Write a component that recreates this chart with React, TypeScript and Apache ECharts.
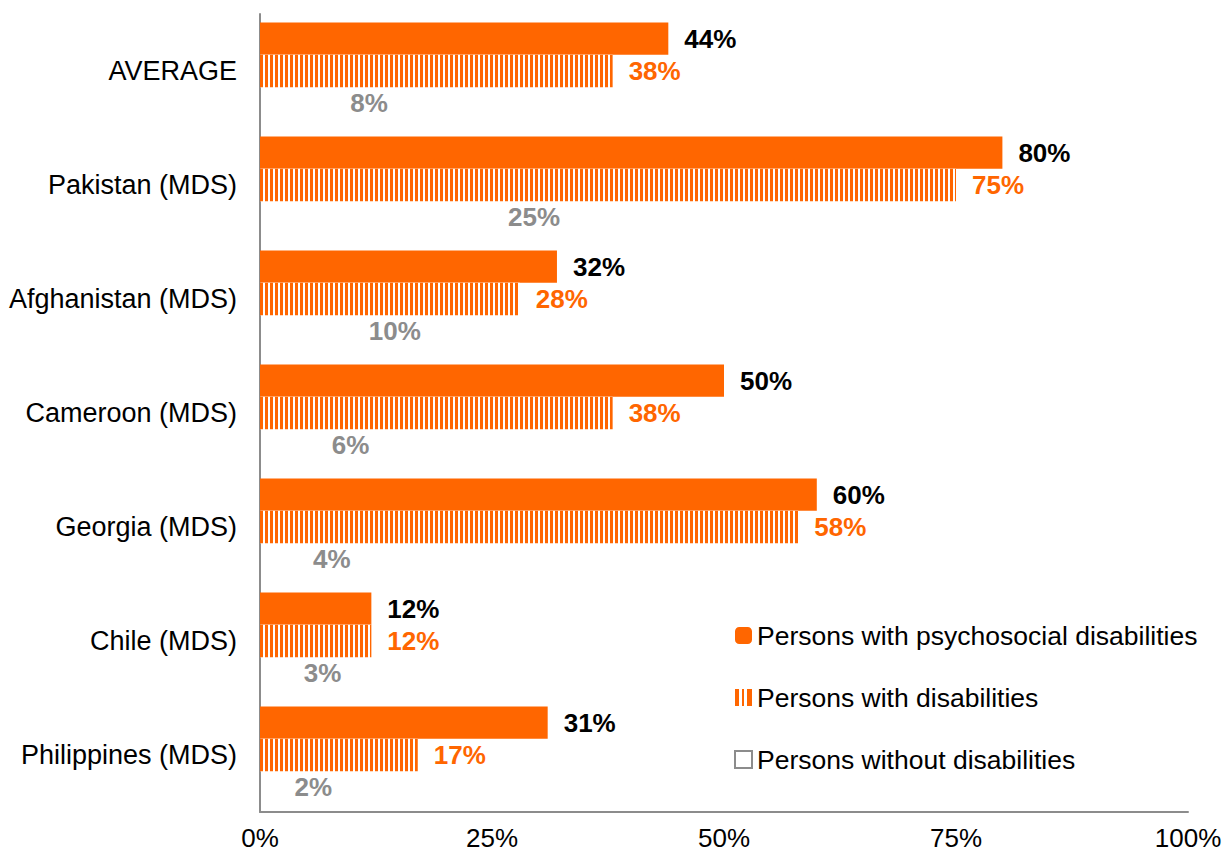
import React, { useEffect, useRef } from "react";
import * as echarts from "echarts";

const categories = [
  "AVERAGE",
  "Pakistan (MDS)",
  "Afghanistan (MDS)",
  "Cameroon (MDS)",
  "Georgia (MDS)",
  "Chile (MDS)",
  "Philippines (MDS)",
];
const psychosocial = [44, 80, 32, 50, 60, 12, 31];
const withDisabilities = [38, 75, 28, 38, 58, 12, 17];
const withoutDisabilities = [8, 25, 10, 6, 4, 3, 2];
const xTicks = [0, 25, 50, 75, 100];

const ORANGE = "#FF6600";
const GRAY = "#8C8C8C";
const FONT = "Liberation Sans, Arial, sans-serif";

export default function App() {
  const ref = useRef<HTMLDivElement>(null);
  useEffect(() => {
    if (!ref.current) return;
    const chart = echarts.init(ref.current, undefined, { renderer: "svg" });
    const labelBase = {
      show: true,
      position: "right",
      distance: 16,
      fontSize: 26,
      fontWeight: "bold",
      fontFamily: FONT,
      formatter: (p: any) => p.value + "%",
    };
    chart.setOption({
      animation: false,
      textStyle: { fontFamily: FONT },
      grid: { left: 260, top: 14, right: 40, bottom: 42, containLabel: false },
      legend: {
        orient: "vertical",
        left: 729,
        top: 617,
        itemWidth: 17,
        itemHeight: 17,
        itemGap: 35,
        textStyle: { fontSize: 26.5, color: "#000", fontFamily: FONT },
        data: [
          { name: "Persons with psychosocial disabilities", icon: "roundRect", itemStyle: { color: ORANGE } },
          {
            name: "Persons with disabilities",
            icon: "rect",
            itemStyle: {
              color: ORANGE,
              decal: { symbol: "rect", dashArrayX: [[0, 4, 3, 2, 3, 4]], dashArrayY: [10, 0], color: "#fff" },
            },
          },
          {
            name: "Persons without disabilities",
            icon: "rect",
            itemStyle: { color: "#fff", borderColor: GRAY, borderWidth: 2 },
          },
        ],
      },
      xAxis: {
        type: "value",
        min: 0,
        max: 100,
        interval: 25,
        axisLine: { show: true, lineStyle: { color: GRAY, width: 2 } },
        axisTick: { show: false },
        splitLine: { show: false },
        axisLabel: {
          fontSize: 26,
          lineHeight: 26,
          color: "#000",
          margin: 13,
          fontFamily: FONT,
          formatter: (v: number) => (xTicks.includes(v) ? v + "%" : ""),
        },
      },
      yAxis: {
        type: "category",
        inverse: true,
        data: categories,
        axisLine: { show: true, lineStyle: { color: GRAY, width: 2 } },
        axisTick: { show: false },
        axisLabel: { fontSize: 27, color: "#000", margin: 23, fontFamily: FONT },
      },
      series: [
        {
          name: "Persons with psychosocial disabilities",
          type: "bar",
          data: psychosocial,
          barGap: "0%",
          barCategoryGap: "15%",
          itemStyle: { color: ORANGE },
          label: { ...labelBase, color: "#000" },
        },
        {
          name: "Persons with disabilities",
          type: "bar",
          data: withDisabilities,
          barGap: "0%",
          barCategoryGap: "15%",
          itemStyle: {
            color: "#fff",
            decal: {
              symbol: "rect",
              symbolSize: 1,
              dashArrayX: [3, 2],
              dashArrayY: [10, 0],
              color: ORANGE,
            },
          },
          label: { ...labelBase, color: ORANGE },
        },
        {
          name: "Persons without disabilities",
          type: "bar",
          data: withoutDisabilities,
          barGap: "0%",
          barCategoryGap: "15%",
          itemStyle: { color: "rgba(255,255,255,0)" },
          label: { ...labelBase, color: GRAY },
        },
      ],
    });
    return () => chart.dispose();
  }, []);
  return (
    <div
      ref={ref}
      style={{ position: "absolute", left: 0, top: 0, width: 1228, height: 854 }}
    />
  );
}
